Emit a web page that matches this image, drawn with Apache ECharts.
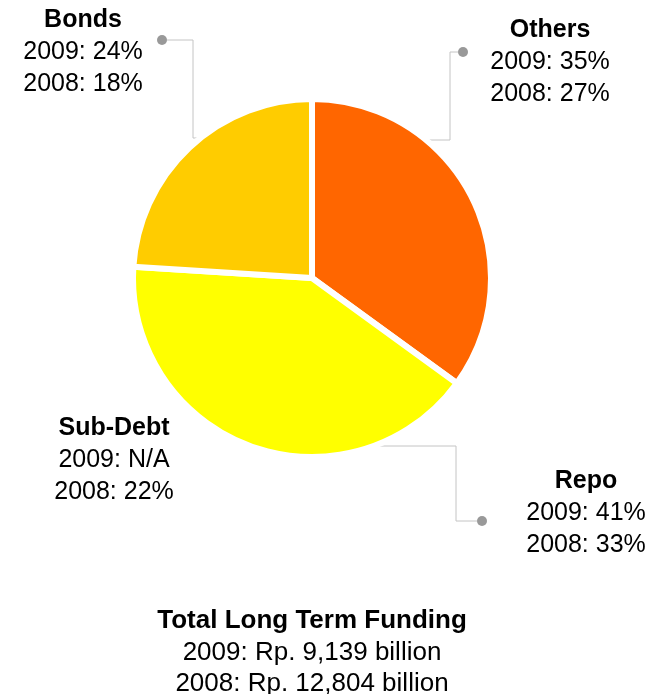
<!DOCTYPE html>
<html>
<head>
<meta charset="utf-8">
<script src="https://cdn.jsdelivr.net/npm/echarts@6/dist/echarts.min.js"></script>
<style>html,body{margin:0;padding:0;background:#fff;}#c{width:667px;height:694px;}</style>
</head>
<body>
<div id="c"></div>
<script>
// ---- data ----
var categories = ['Others', 'Repo', 'Sub-Debt', 'Bonds'];
var share2009 = [35, 41, null, 24];
var share2008 = [27, 33, 22, 18];
var totalTitle = 'Total Long Term Funding';
var totalYears = ['2009', '2008'];
var totalValues = ['9,139', '12,804'];

// ---- layout / style ----
var colors = ['#FF6600', '#FFFF00', '#FFFFFF', '#FFCC00'];
var CX = 312, CY = 278, R = 179;
var FONT = '"Liberation Sans", Arial, Helvetica, sans-serif';
// label anchors (center x, top y) and leader-line paths (offsets from pie center)
var labelPos = [
  { x: 550, y: 14 },
  { x: 586, y: 465 },
  { x: 114, y: 412 },
  { x: 83, y: 4 }
];
var leader = [
  [[92, -138], [138, -138], [138, -226], [146, -226]],
  [[49, 168], [144, 168], [144, 243], [165, 243]],
  null,
  [[-108, -140], [-119, -140], [-119, -238], [-145, -238]]
];
var dots = [[151, -226], [170, 243], null, [-150, -238]];

var chart = echarts.init(document.getElementById('c'));

var data = categories.map(function (c, i) {
  var item = {
    name: c,
    value: share2009[i] == null ? 0 : share2009[i],
    itemStyle: { color: colors[i] }
  };
  if (!leader[i]) {
    item.labelLine = { show: false };
    item.itemStyle.borderWidth = 0;
  }
  return item;
});

var graphics = [];
dots.forEach(function (d) {
  if (!d) return;
  graphics.push({
    type: 'circle',
    shape: { cx: CX + d[0], cy: CY + d[1], r: 5 },
    style: { fill: '#999999' },
    z: 10
  });
});

chart.setOption({
  animation: false,
  backgroundColor: '#ffffff',
  title: {
    text: totalTitle,
    subtext: totalYears.map(function (y, i) { return y + ': Rp. ' + totalValues[i] + ' billion'; }).join('\n'),
    left: 307,
    textAlign: 'center',
    top: 600,
    itemGap: 1,
    textStyle: { fontFamily: FONT, fontSize: 26, fontWeight: 'bold', color: '#000', lineHeight: 31 },
    subtextStyle: { fontFamily: FONT, fontSize: 26, color: '#000', lineHeight: 31, align: 'center' }
  },
  graphic: graphics,
  series: [{
    type: 'pie',
    center: [CX, CY],
    radius: [0, R],
    startAngle: 90,
    clockwise: true,
    avoidLabelOverlap: false,
    silent: true,
    itemStyle: { borderColor: '#ffffff', borderWidth: 6 },
    data: data,
    label: {
      show: true,
      position: 'outside',
      fontFamily: FONT,
      formatter: function (p) {
        var i = p.dataIndex;
        var v09 = share2009[i] == null ? 'N/A' : share2009[i] + '%';
        var v08 = share2008[i] == null ? 'N/A' : share2008[i] + '%';
        return '{t|' + categories[i] + '}\n{v|2009: ' + v09 + '}\n{v|2008: ' + v08 + '}';
      },
      rich: {
        t: { fontFamily: FONT, fontSize: 25, fontWeight: 'bold', color: '#000', lineHeight: 32, align: 'center' },
        v: { fontFamily: FONT, fontSize: 25, color: '#000', lineHeight: 32, align: 'center' }
      }
    },
    labelLine: { show: true, lineStyle: { color: '#c4c4c4', width: 1 } },
    labelLayout: function (params) {
      var i = params.dataIndex;
      var res = { x: labelPos[i].x, y: labelPos[i].y, align: 'center', verticalAlign: 'top' };
      if (leader[i]) {
        res.labelLinePoints = leader[i].map(function (p) { return [CX + p[0], CY + p[1]]; });
      }
      return res;
    }
  }]
});
</script>
</body>
</html>
